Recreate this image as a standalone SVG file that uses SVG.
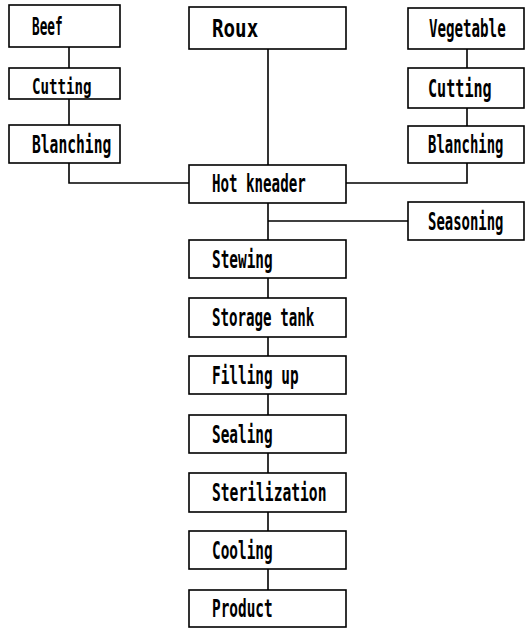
<svg xmlns="http://www.w3.org/2000/svg" width="526" height="628" viewBox="0 0 526 628">
<style>
rect{fill:#fff;stroke:#000;stroke-width:1.6}
.c line,.c polyline{stroke:#000;stroke-width:1.6;fill:none}
text{font-family:"DejaVu Sans Mono","Liberation Mono",monospace;font-size:24px;font-weight:bold;fill:#000}
</style>
<rect x="0" y="0" width="526" height="628" style="stroke:none"/>
<g class="c" id="connectors">
<line x1="69" y1="47" x2="69" y2="68"/>
<line x1="69" y1="99" x2="69" y2="125"/>
<polyline points="69,163 69,183 189,183"/>
<line x1="268" y1="49" x2="268" y2="165"/>
<line x1="467" y1="49" x2="467" y2="68"/>
<line x1="467" y1="108" x2="467" y2="126"/>
<polyline points="467,163 467,183 346,183"/>
<line x1="268" y1="203" x2="268" y2="240"/>
<line x1="268" y1="221" x2="408" y2="221"/>
<line x1="268" y1="278" x2="268" y2="298"/>
<line x1="268" y1="337" x2="268" y2="356"/>
<line x1="268" y1="394" x2="268" y2="415"/>
<line x1="268" y1="453" x2="268" y2="473"/>
<line x1="268" y1="512" x2="268" y2="531"/>
<line x1="268" y1="569" x2="268" y2="590"/>
</g>
<g id="beef"><rect x="9" y="5" width="111" height="42"/><text transform="translate(32,35) scale(0.53,1)">Beef</text></g>
<g id="cutting-left"><rect x="9" y="68" width="111" height="31"/><text transform="translate(32,94) scale(0.59,0.9)">Cutting</text></g>
<g id="blanching-left"><rect x="9" y="125" width="111" height="38"/><text transform="translate(32,152.5) scale(0.61,1)">Blanching</text></g>
<g id="roux"><rect x="189" y="7" width="157" height="42"/><text transform="translate(212,36.5) scale(0.8,1)">Roux</text></g>
<g id="vegetable"><rect x="408" y="8" width="116" height="41"/><text transform="translate(429,37) scale(0.59,1)">Vegetable</text></g>
<g id="cutting-right"><rect x="408" y="68" width="116" height="40"/><text transform="translate(428,96.5) scale(0.63,1)">Cutting</text></g>
<g id="blanching-right"><rect x="408" y="126" width="116" height="37"/><text transform="translate(428,153) scale(0.58,1)">Blanching</text></g>
<g id="hot-kneader"><rect x="189" y="165" width="157" height="38"/><text transform="translate(212,192) scale(0.59,1)">Hot kneader</text></g>
<g id="seasoning"><rect x="408" y="202" width="116" height="38"/><text transform="translate(428,229.5) scale(0.58,1)">Seasoning</text></g>
<g id="stewing"><rect x="189" y="240" width="157" height="38"/><text transform="translate(212,267.5) scale(0.6,1)">Stewing</text></g>
<g id="storage-tank"><rect x="189" y="298" width="157" height="39"/><text transform="translate(212,326) scale(0.59,1)">Storage tank</text></g>
<g id="filling-up"><rect x="189" y="356" width="157" height="38"/><text transform="translate(212,383.5) scale(0.6,1)">Filling up</text></g>
<g id="sealing"><rect x="189" y="415" width="157" height="38"/><text transform="translate(212,442.5) scale(0.6,1)">Sealing</text></g>
<g id="sterilization"><rect x="189" y="473" width="157" height="39"/><text transform="translate(212,501) scale(0.61,1)">Sterilization</text></g>
<g id="cooling"><rect x="189" y="531" width="157" height="38"/><text transform="translate(212,558.5) scale(0.6,1)">Cooling</text></g>
<g id="product"><rect x="189" y="590" width="157" height="37"/><text transform="translate(212,617) scale(0.6,1)">Product</text></g>
</svg>
